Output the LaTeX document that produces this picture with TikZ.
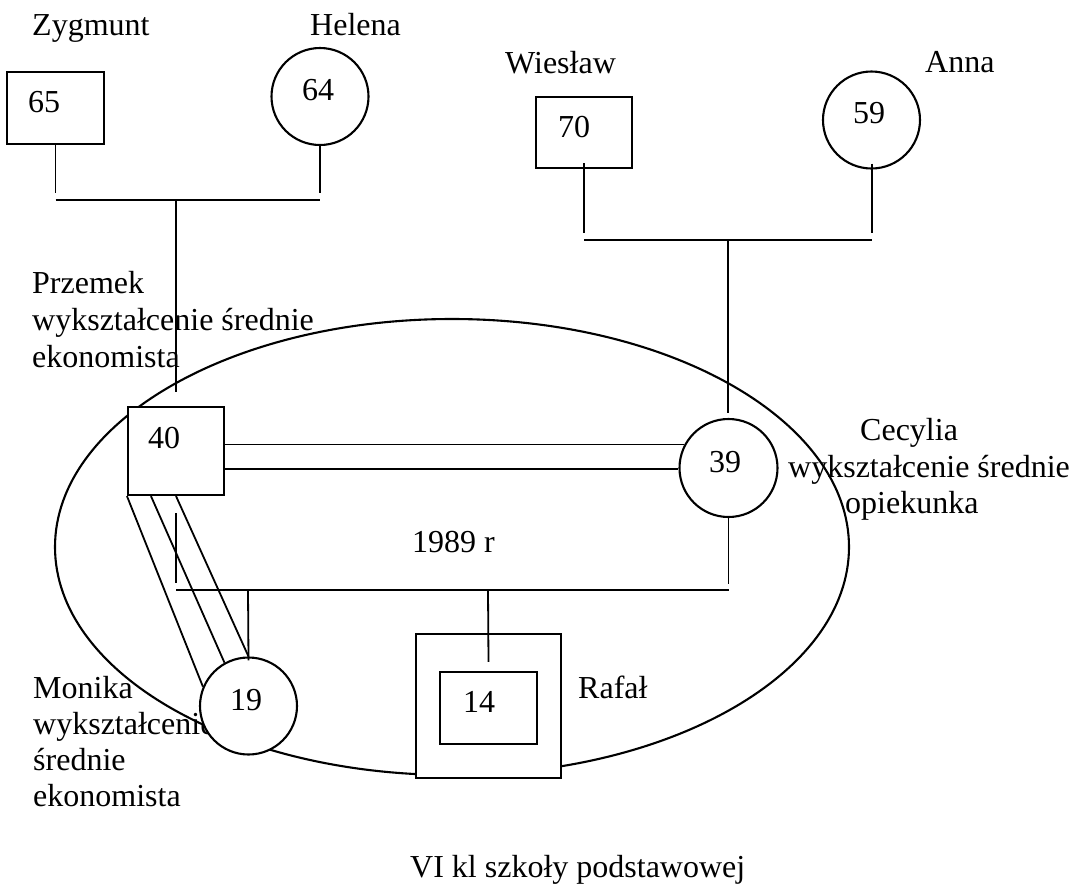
\documentclass[tikz,border=0pt]{standalone}
\usepackage{fontspec}
\setmainfont{Liberation Serif}
\usetikzlibrary{shapes.geometric}

\tikzset{
  shp/.style={draw, line width=2.1pt, fill=white, inner sep=0pt},
  male/.style={shp, rectangle},
  female/.style={shp, circle},
  rel/.style={line width=1.8pt},
  txt/.style={anchor=base west, inner sep=0pt, font=\fontsize{32}{37}\selectfont},
}

\begin{document}
\begin{tikzpicture}[x=1pt, y=-1pt]
\useasboundingbox (0,0) rectangle (1072,887);

% household circle
\node[draw, ellipse, line width=2.1pt, inner sep=0pt,
      minimum width=794pt, minimum height=456pt] (fam) at (452,547) {};

% names and descriptions
\node[txt] (tzyg) at (32,35) {Zygmunt};
\node[txt] (thel) at (310,35) {Helena};
\node[txt] (twie) at (505,73) {Wiesław};
\node[txt] (tann) at (925,72) {Anna};
\node[txt] (tprz1) at (32,293) {Przemek};
\node[txt] (tprz2) at (32,330) {wykształcenie średnie};
\node[txt] (tprz3) at (32,367) {ekonomista};
\node[txt] (tcec1) at (860,440) {Cecylia};
\node[txt] (tcec2) at (788,477) {wykształcenie średnie};
\node[txt] (tcec3) at (845,513) {opiekunka};
\node[txt] (tyear) at (412,552) {1989 r};
\node[txt] (tmon1) at (33,698) {Monika};
\node[txt] (tmon2) at (33,734) {wykształcenie};
\node[txt] (tmon3) at (33,770) {średnie};
\node[txt] (tmon4) at (33,806) {ekonomista};
\node[txt] (traf) at (578,698) {Rafał};
\node[txt] (tsch) at (410,877) {VI kl szkoły podstawowej};

% persons
\node[male, minimum width=97pt, minimum height=72pt] (zyg) at (55.5,108) {};
\node[female, minimum size=97pt] (hel) at (320,96.5) {};
\node[male, minimum width=96pt, minimum height=71pt] (wie) at (584,132.5) {};
\node[female, minimum size=97pt] (ann) at (871.5,120) {};
\node[male, minimum width=96pt, minimum height=88pt] (prz) at (176,451) {};
\node[female, minimum size=98pt] (cec) at (728.5,468) {};
\node[female, minimum size=97pt] (mon) at (248.5,706) {};
\node[male, minimum width=145pt, minimum height=144pt] (rafo) at (488.5,706) {};
\node[male, minimum width=97pt, minimum height=72pt] (raf) at (488.5,708) {};

% ages
\node[txt] (azyg) at (28,112) {65};
\node[txt] (ahel) at (302,100) {64};
\node[txt] (awie) at (558,137) {70};
\node[txt] (aann) at (853,123) {59};
\node[txt] (aprz) at (148,448) {40};
\node[txt] (acec) at (709,472) {39};
\node[txt] (amon) at (230,710) {19};
\node[txt] (araf) at (463,712) {14};

% junction points
\coordinate (zl) at (55.5,193);
\coordinate (hl) at (320,193);
\coordinate (zh1) at (55.5,200);
\coordinate (zh2) at (320,200);
\coordinate (zm) at (176,200);
\coordinate (ztop) at (176,392);
\coordinate (wl) at (584,233);
\coordinate (al) at (872,233);
\coordinate (wh1) at (584,240);
\coordinate (wh2) at (872,240);
\coordinate (wm) at (728,240);
\coordinate (wtop) at (728,413);
\coordinate (pa) at (176,513);
\coordinate (pb) at (176,583);
\coordinate (ca) at (728.5,584);
\coordinate (kh1) at (176,590);
\coordinate (kh2) at (728.5,590);
\coordinate (km) at (248,590);
\coordinate (kr) at (488,590);

% first generation
\draw[rel] (zyg.south) -- (zl);
\draw[rel] (hel.south) -- (hl);
\draw[rel] (zh1) -- (zh2);
\draw[rel] (zm) -- (ztop);
\draw[rel] (wie.south) ++(0,-6) -- (wl);
\draw[rel] (ann.south) ++(0.5,-6) -- (al);
\draw[rel] (wh1) -- (wh2);
\draw[rel] (wm) -- (wtop);

% marriage
\draw[rel] (prz.east |- cec.152) -- (cec.152);
\draw[rel] (prz.east |- cec.181) -- (cec.181);

% children line
\draw[rel] (pa) -- (pb);
\draw[rel] (cec.south) -- (ca);
\draw[rel] (kh1) -- (kh2);
\draw[rel] (km) -- ([yshift=-4pt]mon.north);
\draw[rel] (kr) -- ([yshift=-29pt]rafo.north);

% close relation father - daughter
\draw[rel] (prz.south west) -- (mon.157);
\draw[rel] ([xshift=24pt]prz.south west) -- (mon.119);
\draw[rel] (prz.south) -- (mon.north);
\end{tikzpicture}
\end{document}
